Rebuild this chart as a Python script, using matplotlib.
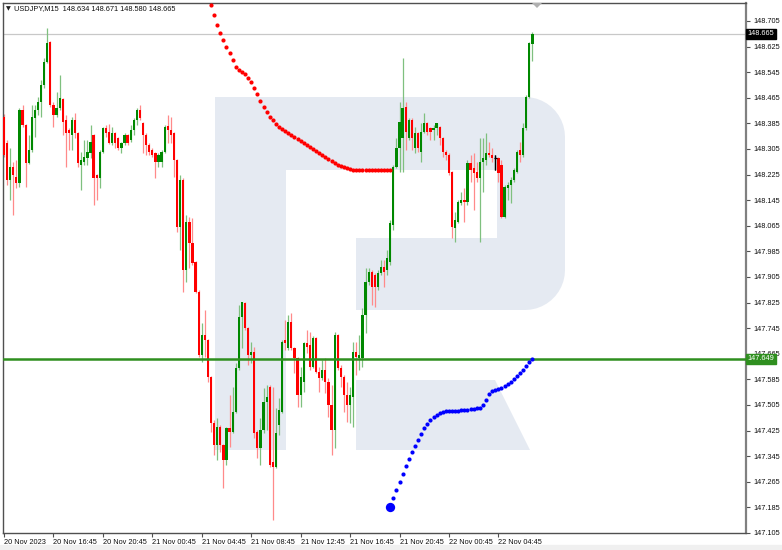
import matplotlib
matplotlib.use("Agg")
import matplotlib.pyplot as plt
from matplotlib.patches import Polygon, Rectangle
from matplotlib.transforms import blended_transform_factory
import numpy as np

# ---------------- data ----------------
title_text = "USDJPY,M15  148.634 148.671 148.580 148.665"

opens = [148.405, 148.324, 148.208, 148.249, 148.218, 148.199, 148.427, 148.380, 148.261, 148.302,
         148.402, 148.427, 148.452, 148.505, 148.577, 148.639, 148.442, 148.411, 148.433, 148.461,
         148.396, 148.364, 148.349, 148.396, 148.355, 148.255, 148.264, 148.277, 148.292, 148.349,
         148.224, 148.214, 148.296, 148.371, 148.358, 148.324, 148.355, 148.339, 148.308, 148.324,
         148.349, 148.333, 148.364, 148.396, 148.427, 148.386, 148.349, 148.317, 148.302, 148.292,
         148.264, 148.264, 148.296, 148.377, 148.364, 148.355, 148.271, 148.061, 148.208, 147.927,
         148.077, 148.011, 147.952, 147.858, 147.661, 147.724, 147.708, 147.592, 147.449, 147.380,
         147.436, 147.380, 147.333, 147.433, 147.421, 147.483, 147.621, 147.780, 147.824, 147.746,
         147.661, 147.671, 147.421, 147.371, 147.427, 147.514, 147.561, 147.327, 147.311, 147.442,
         147.483, 147.708, 147.683, 147.764, 147.683, 147.652, 147.536, 147.577, 147.699, 147.692,
         147.624, 147.714, 147.608, 147.589, 147.614, 147.577, 147.505, 147.427, 147.724, 147.621,
         147.592, 147.536, 147.505, 147.530, 147.671, 147.652, 147.652, 147.786, 147.889, 147.921,
         147.911, 147.874, 147.917, 147.936, 147.927, 147.952, 148.067, 148.249, 148.308, 148.339,
         148.436, 148.339, 148.396, 148.308, 148.355, 148.296, 148.358, 148.386, 148.371, 148.364,
         148.371, 148.374, 148.339, 148.296, 148.286, 148.233, 148.058, 148.077, 148.136, 148.146,
         148.139, 148.261, 148.246, 148.233, 148.214, 148.264, 148.271, 148.292, 148.286, 148.277,
         148.277, 148.255, 148.092, 148.183, 148.192, 148.208, 148.233, 148.302, 148.286, 148.371,
         148.468, 148.634]

highs = [148.414, 148.333, 148.308, 148.264, 148.271, 148.433, 148.442, 148.383, 148.349, 148.442,
         148.442, 148.468, 148.521, 148.589, 148.683, 148.642, 148.452, 148.483, 148.536, 148.464,
         148.411, 148.371, 148.405, 148.417, 148.358, 148.296, 148.333, 148.333, 148.380, 148.352,
         148.227, 148.302, 148.374, 148.380, 148.383, 148.374, 148.358, 148.342, 148.327, 148.355,
         148.352, 148.380, 148.402, 148.433, 148.442, 148.389, 148.355, 148.324, 148.308, 148.296,
         148.292, 148.302, 148.380, 148.411, 148.405, 148.358, 148.274, 148.224, 148.214, 148.099,
         148.092, 148.089, 147.955, 147.864, 147.761, 147.802, 147.711, 147.595, 147.458, 147.464,
         147.442, 147.383, 147.436, 147.536, 147.561, 147.636, 147.817, 147.827, 147.827, 147.749,
         147.702, 147.686, 147.427, 147.464, 147.558, 147.567, 147.567, 147.561, 147.496, 147.527,
         147.708, 147.771, 147.786, 147.792, 147.686, 147.655, 147.624, 147.702, 147.739, 147.733,
         147.721, 147.717, 147.624, 147.646, 147.652, 147.589, 147.567, 147.733, 147.727, 147.630,
         147.599, 147.577, 147.561, 147.702, 147.702, 147.724, 147.808, 147.933, 147.933, 147.927,
         147.917, 147.927, 147.958, 147.958, 147.989, 148.083, 148.255, 148.339, 148.452, 148.589,
         148.452, 148.402, 148.402, 148.374, 148.358, 148.386, 148.417, 148.389, 148.374, 148.380,
         148.386, 148.377, 148.342, 148.302, 148.292, 148.236, 148.108, 148.146, 148.171, 148.183,
         148.271, 148.286, 148.292, 148.264, 148.339, 148.339, 148.355, 148.327, 148.308, 148.286,
         148.280, 148.271, 148.192, 148.202, 148.218, 148.246, 148.302, 148.327, 148.386, 148.474,
         148.639, 148.671]

lows = [148.280, 148.192, 148.146, 148.099, 148.183, 148.186, 148.374, 148.186, 148.258, 148.296,
        148.342, 148.411, 148.405, 148.496, 148.574, 148.436, 148.374, 148.405, 148.427, 148.349,
        148.249, 148.302, 148.302, 148.339, 148.249, 148.177, 148.255, 148.255, 148.277, 148.130,
        148.146, 148.183, 148.292, 148.342, 148.321, 148.317, 148.308, 148.302, 148.292, 148.317,
        148.317, 148.327, 148.349, 148.380, 148.396, 148.292, 148.286, 148.286, 148.280, 148.214,
        148.249, 148.249, 148.293, 148.324, 148.324, 148.218, 148.046, 147.989, 147.858, 147.889,
        147.933, 147.942, 147.855, 147.655, 147.639, 147.655, 147.577, 147.421, 147.349, 147.333,
        147.358, 147.246, 147.317, 147.374, 147.418, 147.480, 147.614, 147.683, 147.739, 147.630,
        147.636, 147.402, 147.339, 147.317, 147.417, 147.427, 147.311, 147.146, 147.308, 147.411,
        147.480, 147.677, 147.677, 147.677, 147.605, 147.499, 147.499, 147.546, 147.667, 147.614,
        147.621, 147.605, 147.546, 147.583, 147.542, 147.467, 147.349, 147.371, 147.614, 147.561,
        147.483, 147.452, 147.449, 147.436, 147.599, 147.614, 147.624, 147.730, 147.880, 147.817,
        147.811, 147.864, 147.911, 147.874, 147.911, 147.942, 148.052, 148.246, 148.233, 148.233,
        148.302, 148.333, 148.302, 148.292, 148.296, 148.264, 148.355, 148.349, 148.333, 148.333,
        148.349, 148.317, 148.280, 148.271, 148.224, 148.027, 148.014, 148.074, 148.130, 148.077,
        148.130, 148.202, 148.114, 148.202, 148.014, 148.171, 148.255, 148.280, 148.264, 148.239,
        148.202, 148.089, 148.089, 148.146, 148.136, 148.202, 148.230, 148.264, 148.280, 148.364,
        148.464, 148.580]

closes = [148.286, 148.208, 148.249, 148.224, 148.199, 148.427, 148.380, 148.261, 148.302, 148.405,
          148.427, 148.452, 148.505, 148.577, 148.636, 148.442, 148.411, 148.433, 148.464, 148.389,
          148.355, 148.355, 148.396, 148.355, 148.261, 148.271, 148.280, 148.296, 148.327, 148.214,
          148.214, 148.296, 148.371, 148.355, 148.324, 148.355, 148.324, 148.308, 148.324, 148.349,
          148.324, 148.364, 148.396, 148.427, 148.402, 148.349, 148.317, 148.296, 148.286, 148.264,
          148.286, 148.296, 148.374, 148.364, 148.349, 148.271, 148.061, 148.208, 147.927, 148.077,
          148.011, 147.949, 147.858, 147.661, 147.724, 147.708, 147.592, 147.449, 147.380, 147.436,
          147.380, 147.333, 147.433, 147.421, 147.483, 147.621, 147.780, 147.827, 147.746, 147.661,
          147.671, 147.417, 147.371, 147.427, 147.514, 147.530, 147.317, 147.311, 147.417, 147.489,
          147.702, 147.699, 147.764, 147.683, 147.652, 147.536, 147.592, 147.699, 147.686, 147.624,
          147.714, 147.608, 147.589, 147.614, 147.577, 147.505, 147.427, 147.724, 147.621, 147.592,
          147.536, 147.505, 147.536, 147.671, 147.655, 147.661, 147.786, 147.889, 147.921, 147.874,
          147.874, 147.917, 147.936, 147.921, 147.964, 148.074, 148.249, 148.308, 148.389, 148.433,
          148.358, 148.396, 148.339, 148.355, 148.308, 148.358, 148.386, 148.358, 148.358, 148.371,
          148.386, 148.339, 148.296, 148.286, 148.230, 148.061, 148.083, 148.139, 148.146, 148.139,
          148.261, 148.239, 148.230, 148.214, 148.264, 148.277, 148.292, 148.286, 148.277, 148.277,
          148.230, 148.092, 148.186, 148.192, 148.208, 148.239, 148.296, 148.286, 148.371, 148.468,
          148.636, 148.665]

# red dotted projection (starts at bar 67)
red_dots_start = 67
red_dots = [148.755, 148.724, 148.693, 148.668, 148.646, 148.624, 148.605, 148.583, 148.561, 148.552,
            148.546, 148.539, 148.527, 148.514, 148.496, 148.477, 148.455, 148.436, 148.421, 148.405,
            148.396, 148.383, 148.374, 148.367, 148.361, 148.355, 148.349, 148.342, 148.336, 148.330,
            148.324, 148.317, 148.311, 148.305, 148.299, 148.292, 148.286, 148.280, 148.274, 148.267,
            148.261, 148.255, 148.252, 148.249, 148.246, 148.242, 148.239, 148.239, 148.239, 148.239,
            148.239, 148.239, 148.239, 148.239, 148.239, 148.239, 148.239, 148.239, 148.239]

# blue dotted projection (starts at bar 125)
blue_dots_start = 125
blue_dots = [147.186, 147.214, 147.239, 147.264, 147.289, 147.314, 147.336, 147.358, 147.377, 147.396,
             147.414, 147.433, 147.446, 147.458, 147.467, 147.474, 147.480, 147.483, 147.486, 147.486,
             147.486, 147.486, 147.486, 147.489, 147.489, 147.489, 147.492, 147.492, 147.496, 147.496,
             147.505, 147.521, 147.539, 147.549, 147.552, 147.555, 147.558, 147.564, 147.571, 147.577,
             147.586, 147.596, 147.605, 147.614, 147.627, 147.639, 147.649]

level_price = 147.649
bid_price = 148.665

price_ticks = [148.705, 148.625, 148.545, 148.465, 148.385, 148.305, 148.225, 148.145, 148.065,
               147.985, 147.905, 147.825, 147.745, 147.665, 147.585, 147.505, 147.425, 147.345,
               147.265, 147.185, 147.105]

time_tick_bars = [0, 16, 32, 48, 64, 80, 96, 112, 128, 144, 160]
time_labels = ["20 Nov 2023", "20 Nov 16:45", "20 Nov 20:45", "21 Nov 00:45", "21 Nov 04:45",
               "21 Nov 08:45", "21 Nov 12:45", "21 Nov 16:45", "21 Nov 20:45", "22 Nov 00:45",
               "22 Nov 04:45"]

# ---------------- figure ----------------
W, H = 782, 550
plt.rcParams['font.family'] = ['Liberation Sans', 'DejaVu Sans']
fig = plt.figure(figsize=(W / 100, H / 100), dpi=100)
fig.patch.set_facecolor('white')

def fx(x):
    return x / W

def fy(y):
    return 1 - y / H

ax_l, ax_r, ax_t, ax_b = 2.7, 746, 3, 533
ax = fig.add_axes([fx(ax_l), fy(ax_b), (ax_r - ax_l) / W, (ax_b - ax_t) / H])
ax.set_facecolor('white')

# bottom grey strip
fig.add_artist(Rectangle((0, 0), 1, fy(545), transform=fig.transFigure, color='#f0f0f0', zorder=0))

# watermark logo (pixel geometry)
wm = '#e5eaf2'
def px_poly(pts):
    return [(fx(x), fy(y)) for x, y in pts]

ax.add_patch(Polygon(px_poly([(215, 97), (286, 97), (286, 450), (215, 450)]),
                     closed=True, transform=fig.transFigure, color=wm, lw=0, zorder=0))
r = 40
th1 = np.linspace(np.pi / 2, 0, 12)
arc_top = [(525 + r * np.cos(t), 137 - r * np.sin(t)) for t in th1]
th2 = np.linspace(0, -np.pi / 2, 12)
arc_bot = [(525 + r * np.cos(t), 270 - r * np.sin(t)) for t in th2]
bowl = [(286, 97)] + arc_top + arc_bot + [(356, 310), (356, 238), (497, 238), (497, 170), (286, 170)]
ax.add_patch(Polygon(px_poly(bowl), closed=True, transform=fig.transFigure, color=wm, lw=0, zorder=0))
ax.add_patch(Polygon(px_poly([(356, 380), (495, 380), (530, 450), (356, 450)]),
                     closed=True, transform=fig.transFigure, color=wm, lw=0, zorder=0))

# candles
idx = np.arange(len(opens))
o = np.array(opens); h = np.array(highs); l = np.array(lows); c = np.array(closes)
up = c > o
down = c < o
doji = c == o
body_w = 0.72
wick_cols = np.where(up, '#7fc07f', np.where(down, '#ff8a8a', '#000000'))
ax.vlines(idx, l, h, colors=list(wick_cols), linewidth=0.9, zorder=2)
bot = np.minimum(o, c)
hgt = np.maximum(np.abs(c - o), 0.0015)
ax.bar(idx[up], hgt[up], bottom=bot[up], width=body_w, color='#008800', lw=0, zorder=3)
ax.bar(idx[down], hgt[down], bottom=bot[down], width=body_w, color='#ff0000', lw=0, zorder=3)
ax.hlines(o[doji], idx[doji] - 0.5, idx[doji] + 0.5, colors='black', lw=0.9, zorder=3)
ax.vlines(idx[doji], l[doji], h[doji], colors='black', lw=0.9, zorder=3)

# horizontal lines
ax.axhline(bid_price, color='#c8c8c8', lw=0.9, zorder=1)
ax.axhline(level_price, color='#2f8f1f', lw=1.8, zorder=4)

# projections
rx = np.arange(red_dots_start, red_dots_start + len(red_dots))
ax.scatter(rx, red_dots, s=9, color='#ff0000', lw=0, zorder=5)
bx = np.arange(blue_dots_start, blue_dots_start + len(blue_dots))
ax.scatter(bx, blue_dots, s=9, color='#0000ff', lw=0, zorder=5)
ax.scatter(bx[:1], blue_dots[:1], s=45, color='#0000ff', lw=0, zorder=5)

# limits: bar i at pixel 4 + 3.09*i
ppb = 3.09
ax.set_xlim((ax_l - 4) / ppb, (ax_r - 4) / ppb)
ppy = 320.0
top_price = 148.705 + (21 - ax_t) / ppy
ax.set_ylim(top_price - (ax_b - ax_t) / ppy, top_price)

# axes styling
for s in ['left', 'bottom', 'top']:
    ax.spines[s].set_color('#505050')
    ax.spines[s].set_linewidth(1.0)
ax.spines['right'].set_color('#808080')
ax.spines['right'].set_linewidth(1.6)
ax.yaxis.tick_right()
ax.set_yticks(price_ticks)
ax.set_yticklabels([f"{p:.3f}" for p in price_ticks])
ax.tick_params(axis='y', direction='out', length=3, width=0.8, color='#505050',
               labelsize=5.3, pad=2, labelcolor='#101010')
ax.set_xticks(time_tick_bars)
ax.set_xticklabels(time_labels, ha='left')
ax.tick_params(axis='x', direction='out', length=3, width=0.8, color='#505050',
               labelsize=5.3, pad=1.5, labelcolor='#101010')
for lab in ax.get_xticklabels():
    lab.set_x(0)

trans = blended_transform_factory(ax.transAxes, ax.transData)
ax.text(1.0 + 1.5 / (ax_r - ax_l), bid_price, f"{bid_price:.3f}", transform=trans, fontsize=5.3,
        color='white', va='center', ha='left', zorder=10, clip_on=False,
        bbox=dict(boxstyle='square,pad=0.2', fc='black', ec='black'))
ax.text(1.0 + 1.5 / (ax_r - ax_l), level_price, f"{level_price:.3f}", transform=trans, fontsize=5.3,
        color='white', va='center', ha='left', zorder=10, clip_on=False,
        bbox=dict(boxstyle='square,pad=0.2', fc='#2f8f1f', ec='#2f8f1f'))

# title and shift marker
fig.text(fx(6), fy(9), "\u25BC", fontsize=4.5, color='#202020', va='center', ha='left',
         family=['DejaVu Sans'])
fig.text(fx(14), fy(9), title_text, fontsize=5.3, color='#101010', va='center', ha='left')
fig.add_artist(Polygon(px_poly([(532, 3), (542, 3), (537, 8)]), closed=True,
                       transform=fig.transFigure, color='#b0b0b0', lw=0, zorder=6))

fig.savefig("out.png", dpi=100, facecolor='white')
